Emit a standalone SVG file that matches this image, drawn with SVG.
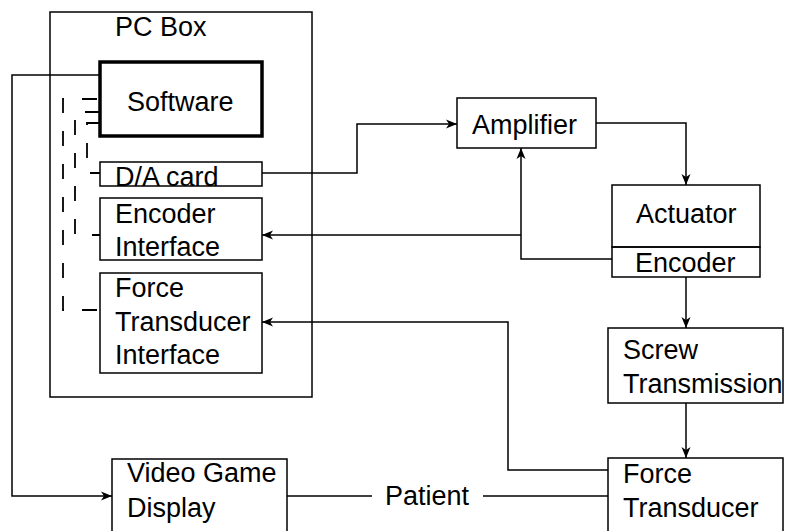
<svg xmlns="http://www.w3.org/2000/svg" width="785" height="531" viewBox="0 0 785 531">
<style>
.box{fill:none;stroke:#000;stroke-width:1.5}
.thick{fill:none;stroke:#000;stroke-width:3.5}
.t{font-family:"Liberation Sans",Arial,sans-serif;font-size:27px;fill:#000}
.c{fill:none;stroke:#000;stroke-width:1.5}
.d{fill:none;stroke:#000;stroke-width:1.8;stroke-dasharray:15 18}
</style>
<defs>
<marker id="ah" markerWidth="12" markerHeight="10" refX="11" refY="5" orient="auto" markerUnits="userSpaceOnUse">
<path d="M0,0.5 L11,5 L0,9.5 L3,5 z" fill="#000"/>
</marker>
</defs>
<rect width="785" height="531" fill="#fff"/>
<g id="pcbox">
<rect class="box" x="50" y="12" width="262" height="385"/>
<text class="t" x="115" y="36">PC Box</text>
</g>
<g id="software">
<rect class="thick" x="100" y="62" width="162" height="74"/>
<text class="t" x="127" y="111">Software</text>
</g>
<g id="dacard">
<rect class="box" x="100" y="162" width="162" height="24"/>
<text class="t" x="115" y="186">D/A card</text>
</g>
<g id="encoderinterface">
<rect class="box" x="100" y="198" width="162" height="62"/>
<text class="t" x="115" y="223">Encoder</text>
<text class="t" x="115" y="256">Interface</text>
</g>
<g id="forceinterface">
<rect class="box" x="100" y="273" width="162" height="100"/>
<text class="t" x="115" y="297">Force</text>
<text class="t" x="115" y="331">Transducer</text>
<text class="t" x="115" y="364">Interface</text>
</g>
<g id="amplifier">
<rect class="box" x="457" y="98" width="139" height="50"/>
<text class="t" x="472" y="134">Amplifier</text>
</g>
<g id="actuator">
<rect class="box" x="612" y="185" width="148" height="62"/>
<text class="t" x="636" y="223">Actuator</text>
</g>
<g id="encoder">
<rect class="box" x="612" y="247" width="148" height="30"/>
<text class="t" x="635" y="272">Encoder</text>
</g>
<g id="screw">
<rect class="box" x="608" y="328" width="175" height="75"/>
<text class="t" x="623" y="359">Screw</text>
<text class="t" x="623" y="393">Transmission</text>
</g>
<g id="forcetransducer">
<rect class="box" x="608" y="458" width="175" height="80"/>
<text class="t" x="623" y="483">Force</text>
<text class="t" x="623" y="517">Transducer</text>
</g>
<g id="videogame">
<rect class="box" x="112" y="459" width="175" height="80"/>
<text class="t" x="127" y="482">Video Game</text>
<text class="t" x="127" y="517">Display</text>
</g>
<g id="patient">
<text class="t" x="385" y="505">Patient</text>
</g>
<g id="connectors">
<path class="c" d="M100,75 H12 V496 H112" marker-end="url(#ah)"/>
<path class="c" d="M262,173 H357 V124 H457" marker-end="url(#ah)"/>
<path class="c" d="M596,123 H686 V185" marker-end="url(#ah)"/>
<path class="c" d="M612,259 H521 V148" marker-end="url(#ah)"/>
<path class="c" d="M521,235 H262" marker-end="url(#ah)"/>
<path class="c" d="M686,277 V328" marker-end="url(#ah)"/>
<path class="c" d="M686,403 V458" marker-end="url(#ah)"/>
<path class="c" d="M608,470 H508 V322 H262" marker-end="url(#ah)"/>
<path class="c" d="M287,496 H372"/>
<path class="c" d="M483,496 H608"/>
<path class="d" d="M97,99 H63 V310 H100"/>
<path class="d" d="M100,112 H75 V235 H100"/>
<path class="d" d="M100,123 H87 V173 H100"/>
</g>
</svg>
